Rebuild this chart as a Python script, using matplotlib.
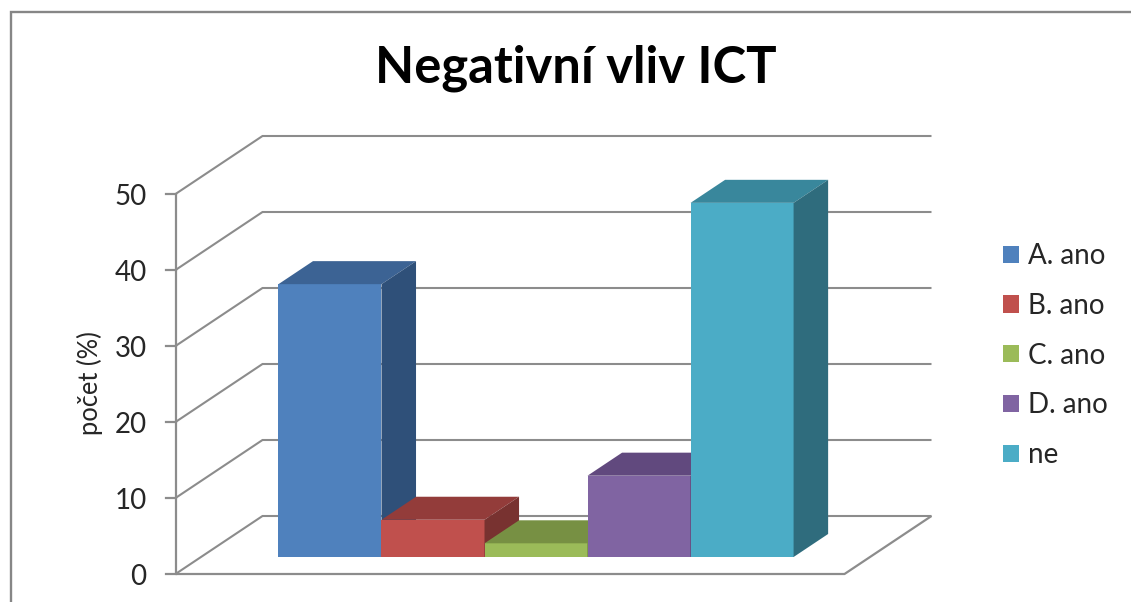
import matplotlib
matplotlib.use("Agg")
import matplotlib.pyplot as plt
from matplotlib.patches import Polygon, Patch

plt.rcParams['font.family'] = ['Lato', 'DejaVu Sans']

title = "Negativní vliv ICT"
ylabel = "počet (%)"
categories = ["A. ano", "B. ano", "C. ano", "D. ano", "ne"]
values = [35.9, 4.9, 1.8, 10.7, 46.6]
y_ticks = [0, 10, 20, 30, 40, 50]
front_colors = ["#4F81BD", "#C0504D", "#9BBB59", "#8064A2", "#4BACC6"]
top_colors = ["#3C6394", "#933C3A", "#779043", "#61497E", "#39879C"]
side_colors = ["#2F5079", "#783230", "#5F7536", "#4D3B63", "#2F6C7D"]

# Oblique projection of the chart's 3D box onto figure pixels
W, H = 1131, 602
X0, Y0 = 175.5, 574.0      # front-left corner of the floor
FLOOR_W = 669.0            # floor width in pixels
DEPTH_X, DEPTH_Y = 87.0, -58.0
PX_PER_UNIT = 7.6
GRID = "#8C8C8C"
TEXT = "#262626"


def proj(u, v, d):
    """u: 0-1 along the floor, v: value, d: 0-1 into the depth."""
    return (X0 + FLOOR_W * u + DEPTH_X * d,
            Y0 - PX_PER_UNIT * v + DEPTH_Y * d)


fig = plt.figure(figsize=(W / 100, H / 100), dpi=100)
ax = fig.add_axes([0, 0, 1, 1])
ax.set_xlim(0, W)
ax.set_ylim(H, 0)
ax.axis("off")

# chart frame (top and left edges are inside the crop)
ax.plot([11, 11, W], [H, 12, 12], color="#868686", lw=1.7, solid_joinstyle="miter")


def line(pts, lw=1.5):
    xs, ys = zip(*pts)
    ax.plot(xs, ys, color=GRID, lw=lw, solid_capstyle="butt", zorder=1)


# walls, floor, ticks
for t in y_ticks:
    line([proj(0, t, 0), proj(0, t, 1), proj(1, t, 1)])
    fx, fy = proj(0, t, 0)
    ax.plot([fx - 10, fx], [fy, fy], color=GRID, lw=1.6, zorder=1)
    ax.text(fx - 29, fy + 3, str(t), ha="right", va="center",
            fontsize=20, color=TEXT)
line([proj(0, 0, 0), proj(0, y_ticks[-1], 0)], lw=1.6)
line([proj(0, 0, 0), proj(1, 0, 0), proj(1, 0, 1)], lw=1.6)

# bars
D0, D1 = 0.293, 0.69
U0, BAR_W = 0.1158, 0.1540
for i, v in enumerate(values):
    a, b = U0 + BAR_W * i, U0 + BAR_W * (i + 1)
    z = 3 + i
    ax.add_patch(Polygon([proj(a, 0, D0), proj(b, 0, D0), proj(b, v, D0), proj(a, v, D0)],
                         fc=front_colors[i], ec="none", zorder=z))
    ax.add_patch(Polygon([proj(a, v, D0), proj(b, v, D0), proj(b, v, D1), proj(a, v, D1)],
                         fc=top_colors[i], ec="none", zorder=z))
    ax.add_patch(Polygon([proj(b, 0, D0), proj(b, 0, D1), proj(b, v, D1), proj(b, v, D0)],
                         fc=side_colors[i], ec="none", zorder=z))

ax.text(576, 68, title, ha="center", va="center", fontsize=36.5,
        fontweight="bold", color="#000000")
ax.text(90, 383, ylabel, ha="center", va="center", rotation=90,
        fontsize=18.4, color=TEXT)

handles = [Patch(fc=c, ec="none", label=n) for c, n in zip(front_colors, categories)]
leg = ax.legend(handles=handles, loc="upper left",
                bbox_to_anchor=(1003 / W, 1 - 243 / H), bbox_transform=ax.transAxes,
                frameon=False, fontsize=20, labelcolor=TEXT,
                handlelength=0.576, handleheight=0.576, handletextpad=0.32,
                labelspacing=0.858, borderpad=0, borderaxespad=0)

fig.savefig("out.png", dpi=100, facecolor="white")
